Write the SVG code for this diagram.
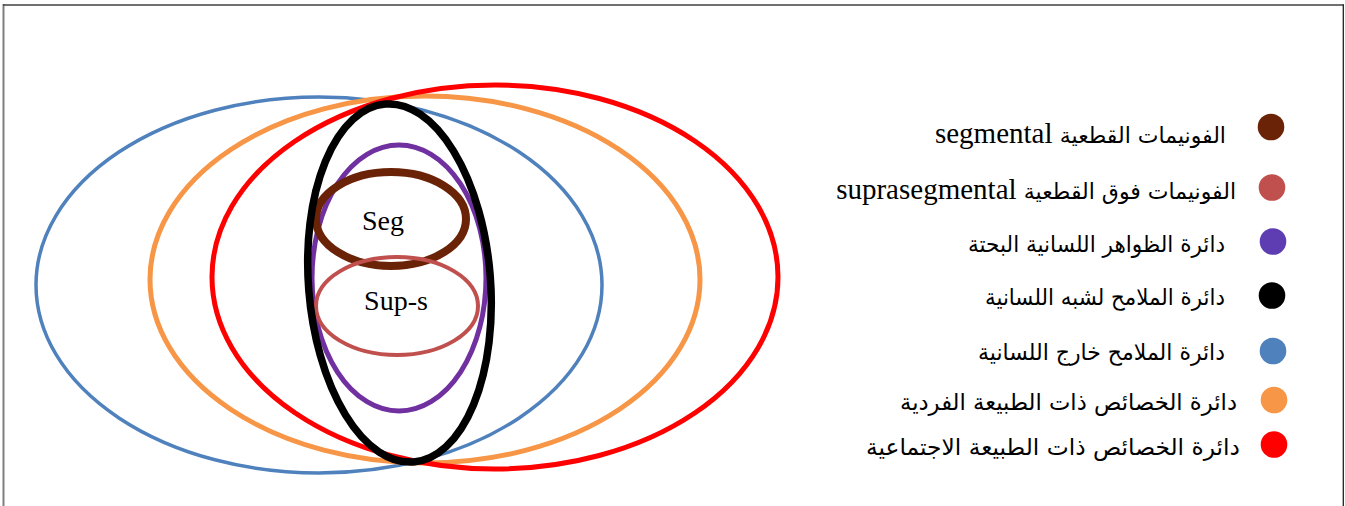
<svg xmlns="http://www.w3.org/2000/svg" width="1345" height="506" viewBox="0 0 1345 506">
<style>
.e{fill:none}
.lbl{font-family:"Liberation Serif","DejaVu Sans",serif;font-size:28px;fill:#000;text-anchor:middle}
.lg{font-family:"Liberation Serif","DejaVu Sans",serif;font-size:29px;fill:#000;text-anchor:end}
.ar{font-family:"DejaVu Sans","Liberation Sans",sans-serif;font-size:22px;fill:#000;text-anchor:end}
.ar2{font-family:"DejaVu Sans","Liberation Sans",sans-serif;font-size:23px;fill:#000;text-anchor:end}
</style>
<rect x="0" y="0" width="1345" height="506" fill="#fff"/>
<g id="frame">
<line x1="3.5" y1="4" x2="3.5" y2="506" stroke="#808080" stroke-width="2"/>
<line x1="3" y1="5" x2="1344" y2="5" stroke="#404040" stroke-width="1.3"/>
<line x1="1343.3" y1="4.5" x2="1343.3" y2="506" stroke="#202020" stroke-width="1.3"/>
</g>
<g id="circles">
<g id="blue"><ellipse class="e" cx="319" cy="285" rx="283" ry="188" stroke="#4F81BD" stroke-width="3.5"/></g>
<g id="orange"><ellipse class="e" cx="425" cy="279.5" rx="275" ry="183.5" stroke="#F79646" stroke-width="5"/></g>
<g id="red"><ellipse class="e" cx="495" cy="277" rx="283" ry="192" stroke="#FF0000" stroke-width="5"/></g>
<g id="purple"><ellipse class="e" cx="399" cy="278" rx="87" ry="133" stroke="#7030A0" stroke-width="5"/></g>
<g id="seg"><ellipse class="e" cx="391" cy="219" rx="75" ry="47" stroke="#6B2308" stroke-width="8"/><text class="lbl" x="383" y="230">Seg</text></g>
<g id="sups"><ellipse class="e" cx="397" cy="306" rx="81" ry="49" stroke="#C0504D" stroke-width="4"/><text class="lbl" x="396" y="310">Sup-s</text></g>
<g id="black"><ellipse class="e" cx="0" cy="0" rx="91" ry="179.5" stroke="#000" stroke-width="7.5" transform="translate(399.5 283) rotate(-4.5)"/></g>
</g>
<g id="legend">
<g id="lg1"><circle cx="1271" cy="127" r="13.3" fill="#6B2308"/><text class="lg" x="1226" y="143">segmental <tspan class="ar">الفونيمات القطعية</tspan></text></g>
<g id="lg2"><circle cx="1272" cy="187.5" r="13.3" fill="#C0504D"/><text class="lg" x="1236" y="199">suprasegmental <tspan class="ar">الفونيمات فوق القطعية</tspan></text></g>
<g id="lg3"><circle cx="1273" cy="241.5" r="13.3" fill="#5E3DB3"/><text class="ar2" x="1225" y="252" textLength="257" lengthAdjust="spacingAndGlyphs">دائرة الظواهر اللسانية البحتة</text></g>
<g id="lg4"><circle cx="1272" cy="295.5" r="13.3" fill="#000"/><text class="ar2" x="1225" y="305" textLength="240" lengthAdjust="spacingAndGlyphs">دائرة الملامح لشبه اللسانية</text></g>
<g id="lg5"><circle cx="1273" cy="351" r="13.3" fill="#4F81BD"/><text class="ar2" x="1225" y="360" textLength="247" lengthAdjust="spacingAndGlyphs">دائرة الملامح خارج اللسانية</text></g>
<g id="lg6"><circle cx="1274" cy="400" r="13.3" fill="#F79646"/><text class="ar2" x="1237" y="410" textLength="337" lengthAdjust="spacingAndGlyphs">دائرة الخصائص ذات الطبيعة الفردية</text></g>
<g id="lg7"><circle cx="1274" cy="444.5" r="13.3" fill="#FF0000"/><text class="ar2" x="1240" y="455" textLength="374" lengthAdjust="spacingAndGlyphs">دائرة الخصائص ذات الطبيعة الاجتماعية</text></g>
</g>
</svg>
